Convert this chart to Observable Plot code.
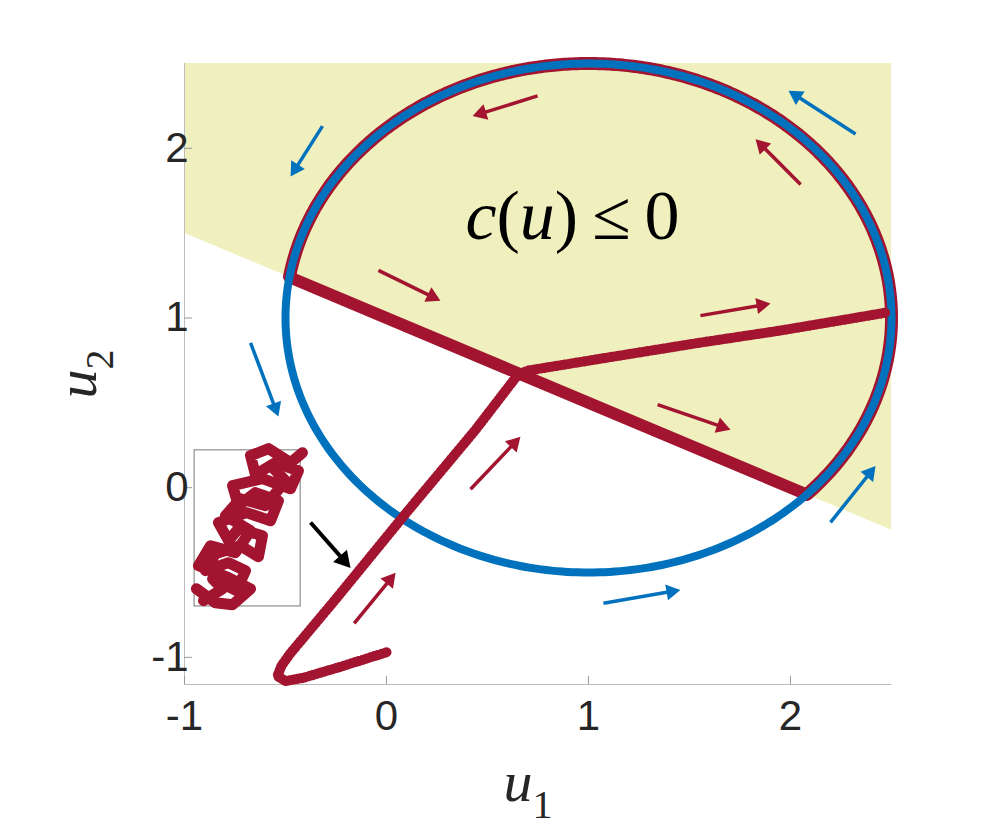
<!DOCTYPE html>
<html><head><meta charset="utf-8">
<script src="https://cdn.jsdelivr.net/npm/d3@7"></script>
<script src="https://cdn.jsdelivr.net/npm/@observablehq/plot@0.6"></script>
<style>body{margin:0;background:#fff} svg{display:block}</style>
</head><body><div id="chart"></div>
<script>
// ---- data ----
const xTicks = [-1, 0, 1, 2];
const yTicks = [-1, 0, 1, 2];
const xDomain = [-1, 2.5];
const yDomain = [-1.16, 2.5];
const circleCenter = [1, 1];
const circleRadius = 1.5;
// feasible half-plane boundary c(u)=0
const boundaryX = [-1, 2.5];
const boundaryY = [1.5, -0.25];
// thick red segment along the boundary, inside the circle
const chordX = [-0.48, 2.08];
const chordY = [1.24, -0.04];
// red arc angles (degrees) along the circle inside the feasible set
const arcAngles = [-43.9, 170.8];
// red trajectory
const trajX = [0.0, -0.08, -0.24, -0.41, -0.50, -0.54, -0.52, -0.475, -0.25, 0.10, 0.44, 0.65, 0.70, 1.059, 1.554, 1.950, 2.475];
const trajY = [-0.97, -1.00, -1.06, -1.12, -1.14, -1.11, -1.05, -0.975, -0.655, -0.145, 0.34, 0.665, 0.69, 0.76, 0.855, 0.926, 1.032];
// inset box and zoomed zigzag
const insetBox = [-0.95, -0.70, -0.425, 0.22];
const zigA_X = [-0.906, -0.812, -0.861, -0.743, -0.698, -0.782, -0.896, -0.847, -0.723, -0.634, -0.614, -0.733, -0.782, -0.832, -0.693, -0.574, -0.535, -0.649, -0.733, -0.762, -0.614, -0.475, -0.436, -0.550, -0.649, -0.673, -0.584, -0.475, -0.416];
const zigA_Y = [-0.666, -0.596, -0.537, -0.607, -0.489, -0.442, -0.489, -0.389, -0.342, -0.407, -0.283, -0.242, -0.312, -0.206, -0.147, -0.195, -0.077, -0.029, -0.106, 0.012, 0.053, -0.006, 0.100, 0.147, 0.077, 0.189, 0.230, 0.147, 0.206];
const zigB_X = [-0.941, -0.847, -0.762, -0.673, -0.792, -0.931, -0.871, -0.748, -0.673, -0.797, -0.723, -0.599, -0.500, -0.574];
const zigB_Y = [-0.596, -0.678, -0.690, -0.596, -0.525, -0.460, -0.342, -0.383, -0.254, -0.165, -0.065, -0.106, 0.041, 0.130];
// arrows [x1, y1, x2, y2]
const redArrows = [
  [0.748, 2.309, 0.426, 2.190],
  [2.050, 1.787, 1.827, 2.054],
  [-0.040, 1.281, 0.267, 1.102],
  [1.554, 1.014, 1.901, 1.085],
  [1.342, 0.490, 1.703, 0.342],
  [0.416, -0.009, 0.663, 0.300],
  [-0.160, -0.800, 0.045, -0.502]
];
const blueArrows = [
  [2.322, 2.084, 1.990, 2.340],
  [-0.317, 2.131, -0.475, 1.834],
  [-0.673, 0.853, -0.535, 0.419],
  [1.074, -0.681, 1.455, -0.603],
  [2.198, -0.205, 2.421, 0.128]
];
const blackArrow = [[-0.376, -0.205, -0.178, -0.473]];
const regionLabel = "c(u) ≤ 0";
const regionLabelPos = [0.921, 1.60];

// ---- layout ----
const W = 987, H = 836, ML = 184, MR = 96, MT = 63, MB = 152;
const RED = "#A2142F", BLUE = "#0072BD";
const sx = Plot.scale({x: {domain: xDomain, range: [ML, W - MR]}});
const sy = Plot.scale({y: {domain: yDomain, range: [H - MB, MT]}});

// ---- derived tables ----
const circ = (a) => ({
  x: circleCenter[0] + circleRadius * Math.cos(a * Math.PI / 180),
  y: circleCenter[1] + circleRadius * Math.sin(a * Math.PI / 180)
});
const circlePts = d3.range(0, 361, 1).map(circ);
const arcPts = d3.range(arcAngles[0], arcAngles[1] + 0.01, 0.5).map(circ);
const feasible = boundaryX.map((x, i) => ({x, y1: boundaryY[i], y2: yDomain[1]}));
const chord = chordX.map((x, i) => ({x, y: chordY[i]}));
const traj = trajX.map((x, i) => ({x, y: trajY[i]}));
const zigA = zigA_X.map((x, i) => ({x, y: zigA_Y[i]}));
const zigB = zigB_X.map((x, i) => ({x, y: zigB_Y[i]}));

// arrows with filled triangular heads
function arrowTable(list, headLen) {
  return list.map(([x1, y1, x2, y2]) => {
    const px1 = sx.apply(x1), py1 = sy.apply(y1), px2 = sx.apply(x2), py2 = sy.apply(y2);
    const L = Math.hypot(px2 - px1, py2 - py1);
    const ux = (px2 - px1) / L, uy = (py2 - py1) / L;
    const back = headLen * 2 / 3; // centroid of triangle
    const cx = px2 - ux * back, cy = py2 - uy * back;
    return {x1, y1, hx: sx.invert(cx), hy: sy.invert(cy),
            angle: Math.atan2(ux, -uy) * 180 / Math.PI};
  });
}
function arrowMarks(list, color, w, headLen) {
  const t = arrowTable(list, headLen);
  const r = (headLen / 3) / 0.7776;
  return [
    Plot.link(t, {x1: "x1", y1: "y1", x2: "hx", y2: "hy", stroke: color, strokeWidth: w}),
    Plot.dot(t, {x: "hx", y: "hy", symbol: "triangle", r, rotate: "angle", fill: color, stroke: "none"})
  ];
}

const plot = Plot.plot({
  width: W, height: H,
  marginLeft: ML, marginRight: MR, marginTop: MT, marginBottom: MB,
  x: {domain: xDomain},
  y: {domain: yDomain},
  style: {fontFamily: "'Liberation Sans', Arial, sans-serif", color: "#262626", background: "white", overflow: "visible"},
  marks: [
    Plot.areaY(feasible, {x: "x", y1: "y1", y2: "y2", fill: "#f0f0be"}),
    Plot.ruleX([xDomain[0]], {stroke: "#bdbdbd", strokeWidth: 1}),
    Plot.ruleY([yDomain[0]], {stroke: "#bdbdbd", strokeWidth: 1}),
    Plot.tickX(xTicks, {x: d => d, insetTop: H - MT - MB - 8, stroke: "#9a9a9a"}),
    Plot.tickY(yTicks, {y: d => d, insetRight: W - ML - MR - 8, stroke: "#9a9a9a"}),
    Plot.axisX(xTicks, {tickSize: 0, tickPadding: 16, fontSize: 42, tickFormat: d => String(d), label: null}),
    Plot.axisY(yTicks, {tickSize: 0, tickPadding: 4, dx: 8, fontSize: 42, tickFormat: d => String(d), label: null}),
    Plot.line(arcPts, {x: "x", y: "y", stroke: RED, strokeWidth: 13}),
    Plot.line(chord, {x: "x", y: "y", stroke: RED, strokeWidth: 12}),
    Plot.line(circlePts, {x: "x", y: "y", stroke: BLUE, strokeWidth: 8}),
    Plot.line(traj, {x: "x", y: "y", stroke: RED, strokeWidth: 7, strokeLinejoin: "round", strokeLinecap: "round"}),
    Plot.line(traj, {x: "x", y: "y", stroke: RED, strokeWidth: 10, strokeDasharray: "1.5 2.5"}),
    Plot.rect([insetBox], {x1: d => d[0], y1: d => d[1], x2: d => d[2], y2: d => d[3], fill: "white", stroke: "#777", strokeWidth: 1}),
    Plot.line(zigA, {x: "x", y: "y", stroke: RED, strokeWidth: 11, strokeLinejoin: "round"}),
    Plot.line(zigB, {x: "x", y: "y", stroke: RED, strokeWidth: 11, strokeLinejoin: "round"}),
    ...arrowMarks(redArrows, RED, 3.5, 14),
    ...arrowMarks(blueArrows, BLUE, 3.5, 14),
    ...arrowMarks(blackArrow, "black", 4, 16),
    Plot.text([regionLabel], {x: () => regionLabelPos[0], y: () => regionLabelPos[1], text: d => d, fontSize: 70, fontFamily: "'Liberation Serif', serif", fill: "black", textAnchor: "middle"}),
    Plot.text(["u1"], {frameAnchor: "bottom", dx: -10, dy: 116, text: d => d, fontSize: 58, fontFamily: "'Liberation Serif', serif", fill: "#262626", textAnchor: "middle", lineAnchor: "bottom"}),
    Plot.text(["u2"], {frameAnchor: "left", dx: -89, rotate: -90, text: d => d, fontSize: 58, fontFamily: "'Liberation Serif', serif", fill: "#262626", textAnchor: "middle", lineAnchor: "bottom"})
  ]
});
document.getElementById("chart").appendChild(plot);

// rich text formatting
plot.querySelectorAll("text").forEach(t => {
  const s = t.textContent;
  if (s === regionLabel) {
    t.innerHTML = '<tspan font-style="italic">c</tspan>(<tspan font-style="italic">u</tspan>)<tspan dx="14">≤</tspan><tspan dx="14">0</tspan>';
  } else if (s === "u1" || s === "u2") {
    t.innerHTML = '<tspan font-style="italic">u</tspan><tspan font-size="40" dy="17">' + s[1] + '</tspan>';
  }
});
</script>
</body></html>
